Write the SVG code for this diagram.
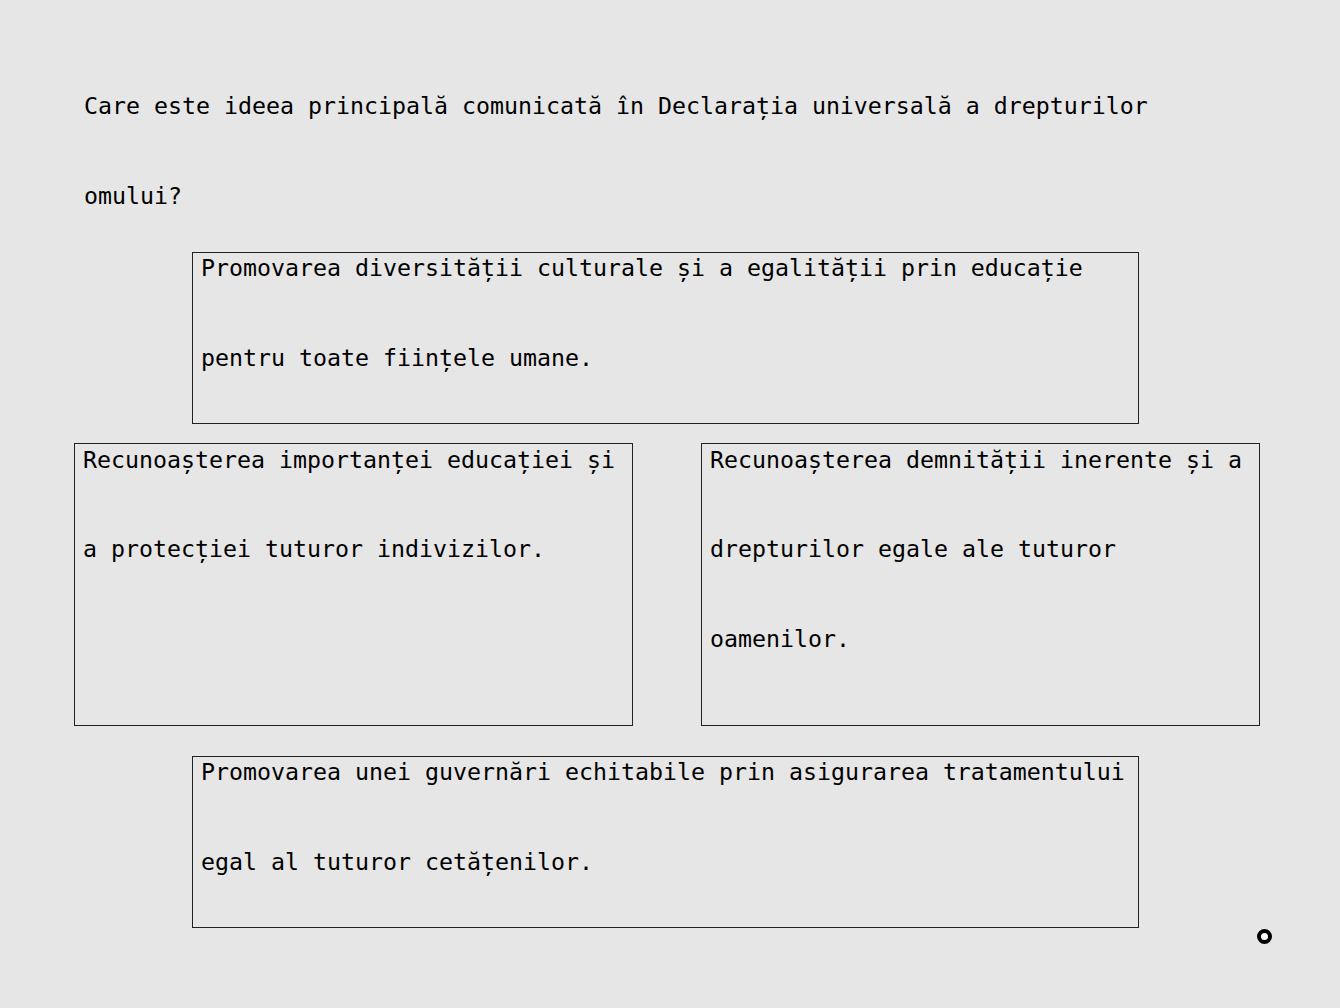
<svg xmlns="http://www.w3.org/2000/svg" width="1340" height="1008" viewBox="0 0 1340 1008">
<style>
text{font-family:"DejaVu Sans Mono","Liberation Mono",monospace;font-size:23.25px;fill:#000}
.box{fill:none;stroke:#222;stroke-width:1}
</style>
<rect width="1340" height="1008" fill="#e6e6e6"/>
<g id="question">
<text x="84" y="114">Care este ideea principală comunicată în Declarația universală a drepturilor</text>
<text x="84" y="204">omului?</text>
</g>
<g id="option1">
<rect class="box" x="192.5" y="252.5" width="946" height="171"/>
<text x="201" y="276">Promovarea diversității culturale și a egalității prin educație</text>
<text x="201" y="366">pentru toate ființele umane.</text>
</g>
<g id="option2">
<rect class="box" x="74.5" y="443.5" width="558" height="282"/>
<text x="83" y="468">Recunoașterea importanței educației și</text>
<text x="83" y="557">a protecției tuturor indivizilor.</text>
</g>
<g id="option3">
<rect class="box" x="701.5" y="443.5" width="558" height="282"/>
<text x="710" y="468">Recunoașterea demnității inerente și a</text>
<text x="710" y="557">drepturilor egale ale tuturor</text>
<text x="710" y="647">oamenilor.</text>
</g>
<g id="option4">
<rect class="box" x="192.5" y="756.5" width="946" height="171"/>
<text x="201" y="780">Promovarea unei guvernări echitabile prin asigurarea tratamentului</text>
<text x="201" y="870">egal al tuturor cetățenilor.</text>
</g>
<g id="connectors"></g>
<g id="marker">
<circle cx="1264.5" cy="936.5" r="5.5" fill="#fff" stroke="#000" stroke-width="4"/>
</g>
</svg>
